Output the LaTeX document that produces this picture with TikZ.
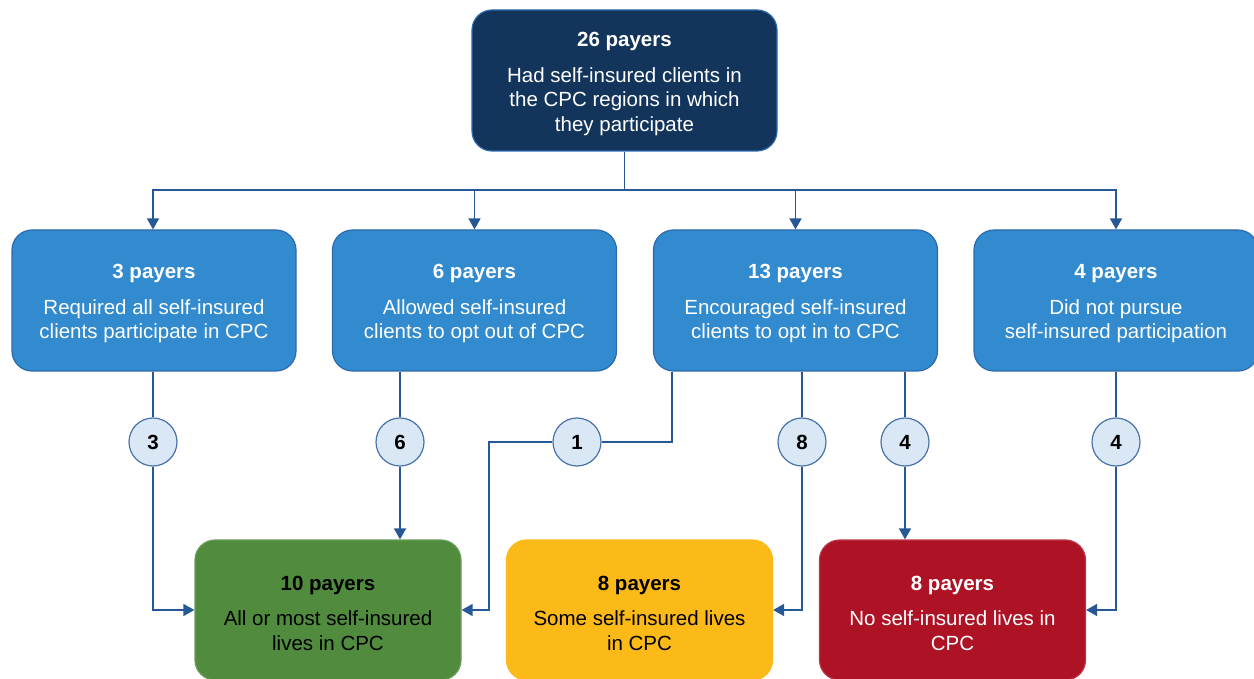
\documentclass[tikz,border=0pt]{standalone}
\usepackage{fontspec}
\setmainfont{Liberation Sans}
\usetikzlibrary{arrows.meta}

\definecolor{navy}{RGB}{19,53,91}
\definecolor{midblue}{RGB}{50,138,207}
\definecolor{midedge}{RGB}{44,106,172}
\definecolor{linkblue}{RGB}{39,88,150}
\definecolor{circfill}{RGB}{218,232,246}
\definecolor{circedge}{RGB}{72,114,168}
\definecolor{allgreen}{RGB}{80,139,62}
\definecolor{someyellow}{RGB}{252,186,24}
\definecolor{nonered}{RGB}{174,19,37}

% bold head line of a box
\newcommand{\payers}[1]{\rule{0pt}{10.5pt}\textbf{#1 payers}\\[5.5pt]}

\tikzset{
  payerbox/.style={rectangle, rounded corners=10pt, align=center, inner sep=0pt,
    minimum height=70.5pt, line width=0.6pt,
    font=\fontsize{10.25}{12.25}\selectfont},
  topbox/.style={payerbox, fill=navy, draw=midedge, text=white, minimum width=152.5pt},
  midbox/.style={payerbox, fill=midblue, draw=midedge, text=white, minimum width=142pt},
  endbox/.style={payerbox, minimum width=133pt, minimum height=70pt},
  count/.style={circle, minimum size=24pt, inner sep=0pt, fill=circfill, draw=circedge,
    line width=0.6pt, font=\fontsize{10.25}{12}\selectfont\bfseries},
  link/.style={draw=linkblue, line width=0.8pt},
  flow/.style={link, -{Triangle[width=6pt,length=5.5pt]}}
}

\begin{document}
\begin{tikzpicture}[x=0.5pt,y=-0.5pt]
\useasboundingbox (0,0) rectangle (1254,679);
%
\node[topbox] (top) at (624.5,80.5) {\payers{26}Had self-insured clients in\\the CPC regions in which\\they participate};
%
\node[midbox] (req) at (154,300.5) {\payers{3}Required all self-insured\\clients participate in CPC};
\node[midbox] (optout) at (474.5,300.5) {\payers{6}Allowed self-insured\\clients to opt out of CPC};
\node[midbox] (optin) at (795.5,300.5) {\payers{13}Encouraged self-insured\\clients to opt in to CPC};
\node[midbox] (nopursue) at (1116,300.5) {\payers{4}Did not pursue\\self-insured participation};
%
\node[endbox, fill=allgreen, draw=allgreen!85!white] (allcpc) at (328,610) {\payers{10}All or most self-insured\\lives in CPC};
\node[endbox, fill=someyellow, draw=someyellow] (somecpc) at (639.5,610) {\payers{8}Some self-insured lives\\in CPC};
\node[endbox, fill=nonered, draw=nonered!85!white, text=white] (nocpc) at (952.5,610) {\payers{8}No self-insured lives in\\CPC};
%
\node[count] (n3) at (153,442) {3};
\node[count] (n6) at (400,442) {6};
\node[count] (n1) at (577,442) {1};
\node[count] (n8) at (802,442) {8};
\node[count] (n4a) at (905,442) {4};
\node[count] (n4b) at (1116,442) {4};
%
\coordinate (hub) at (624.5,190);
\coordinate (bend) at (489,442);
%
\draw[link] (top.south) -- (hub);
\draw[flow] (hub) -| (n3 |- req.north);
\draw[flow] (hub) -| (optout.north);
\draw[flow] (hub) -| (optin.north);
\draw[flow] (hub) -| (nopursue.north);
%
\draw[link] (n3 |- req.south) -- (n3);
\draw[flow] (n3) |- (allcpc.west);
\draw[link] (n6 |- optout.south) -- (n6);
\draw[flow] (n6) -- (n6 |- allcpc.north);
\draw[link] ([xshift=-61.75pt]optin.south) |- (n1);
\draw[flow] (n1) -- (bend) |- (allcpc.east);
\draw[link] (n8 |- optin.south) -- (n8);
\draw[flow] (n8) |- (somecpc.east);
\draw[link] (n4a |- optin.south) -- (n4a);
\draw[flow] (n4a) -- (n4a |- nocpc.north);
\draw[link] (nopursue.south) -- (n4b);
\draw[flow] (n4b) |- (nocpc.east);
\end{tikzpicture}
\end{document}
